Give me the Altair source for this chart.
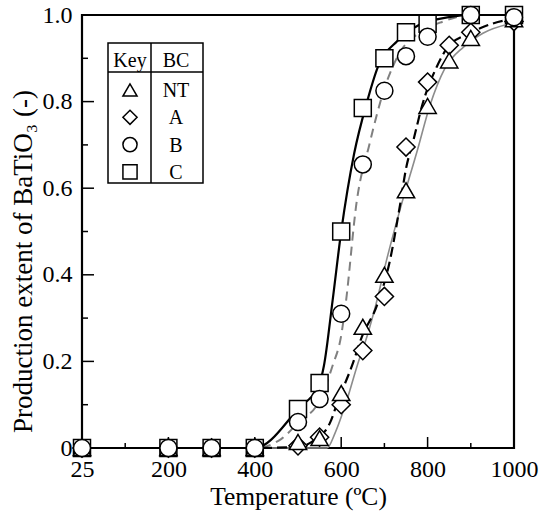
import altair as alt
import pandas as pd

# ---------------- data ----------------
temps_CB = [25, 200, 300, 400, 500, 550, 600, 650, 700, 750, 800, 900, 1000]
vals_C = [0, 0, 0, 0, 0.09, 0.15, 0.50, 0.785, 0.90, 0.96, 0.98, 1.0, 1.0]
vals_B = [0, 0, 0, 0, 0.06, 0.113, 0.31, 0.655, 0.825, 0.905, 0.95, 1.0, 0.995]

temps_ANT = [25, 200, 300, 400, 500, 550, 600, 650, 700, 750, 800, 850, 900, 1000]
vals_A = [0, 0, 0, 0, 0.005, 0.025, 0.10, 0.225, 0.35, 0.695, 0.845, 0.93, 0.96, 0.985]
vals_NT = [0, 0, 0, 0, 0.014, 0.023, 0.127, 0.28, 0.40, 0.595, 0.79, 0.895, 0.947, 0.99]

# fitted curves
curve_T_C = [25, 200, 300, 400, 500, 550, 560, 580, 600, 630, 660, 685, 730, 780, 850, 900, 1000]
curve_C = [0, 0, 0, 0, 0.09, 0.15, 0.19, 0.34, 0.50, 0.68, 0.80, 0.88, 0.94, 0.977, 0.995, 1.0, 1.0]

curve_T_B = [25, 200, 300, 400, 460, 500, 550, 580, 600, 610, 636, 665, 700, 740, 775, 836, 900, 1000]
curve_B = [0, 0, 0, 0, 0.02, 0.058, 0.11, 0.19, 0.26, 0.33, 0.57, 0.70, 0.83, 0.92, 0.955, 0.985, 1.0, 1.0]

curve_T_A = [25, 200, 300, 400, 500, 532, 574, 593, 625, 648, 683, 713, 736, 750, 767, 787, 821, 847, 898, 983, 1000]
curve_A = [0, 0, 0, 0, 0.003, 0.014, 0.058, 0.11, 0.19, 0.257, 0.33, 0.434, 0.56, 0.645, 0.71, 0.79, 0.88, 0.926, 0.958, 0.988, 0.99]

curve_T_NT = [25, 200, 300, 400, 500, 567, 586, 613, 637, 662, 680, 705, 736, 777, 805, 840, 883, 928, 991, 1000]
curve_NT = [0, 0, 0, 0, 0, 0.0, 0.035, 0.11, 0.19, 0.265, 0.33, 0.434, 0.55, 0.69, 0.79, 0.877, 0.926, 0.958, 0.98, 0.982]

legend_keys = ["NT", "A", "B", "C"]
legend_shapes = ["triangle-up", "diamond", "circle", "square"]

x_tick_labels = [25, 200, 400, 600, 800, 1000]
x_major = [200, 400, 600, 800]
x_minor = [100, 300, 500, 700, 900]
y_tick_labels = [0, 0.2, 0.4, 0.6, 0.8, 1.0]
y_major = [0.2, 0.4, 0.6, 0.8]
y_minor = [0.1, 0.3, 0.5, 0.7, 0.9]

FONT = "Liberation Serif"
W, H = 432, 433

xscale = alt.Scale(domain=[25, 100, 1000], range=[0, 43.2, W], nice=False, zero=False)
yscale = alt.Scale(domain=[0, 1], nice=False, zero=False)

base_x = alt.X("T:Q", scale=xscale,
               axis=alt.Axis(values=x_tick_labels, format="d", title="Temperature (\u00baC)",
                             labelFont=FONT, labelFontSize=24, titleFont=FONT, titleFontSize=25.5,
                             labelFlush=False, labelOverlap=False, labelPadding=9, titlePadding=3))
base_y = alt.Y("v:Q", scale=yscale,
               axis=alt.Axis(values=y_tick_labels,
                             labelExpr="datum.value == 0 ? '0' : format(datum.value, '.1f')",
                             title="Production extent of BaTiO\u2083 (-)",
                             labelFont=FONT, labelFontSize=24, titleFont=FONT, titleFontSize=27,
                             titleY=246, titleAlign="center",
                             labelFlush=False, labelOverlap=False, labelPadding=10, titlePadding=5))

layers = []

# inward ticks
layers.append(alt.Chart(pd.DataFrame({"T": x_major})).mark_rule(color="black", strokeWidth=1.5)
              .encode(x=alt.X("T:Q", scale=xscale), y=alt.value(H), y2=alt.value(H - 11)))
layers.append(alt.Chart(pd.DataFrame({"T": x_minor})).mark_rule(color="black", strokeWidth=1.5)
              .encode(x=alt.X("T:Q", scale=xscale), y=alt.value(H), y2=alt.value(H - 5)))
layers.append(alt.Chart(pd.DataFrame({"v": y_major})).mark_rule(color="black", strokeWidth=1.5)
              .encode(y=alt.Y("v:Q", scale=yscale), x=alt.value(0), x2=alt.value(12)))
layers.append(alt.Chart(pd.DataFrame({"v": y_minor})).mark_rule(color="black", strokeWidth=1.5)
              .encode(y=alt.Y("v:Q", scale=yscale), x=alt.value(0), x2=alt.value(6)))

# curves
def curve(ts, vs, color, width, dash=None):
    kw = dict(color=color, strokeWidth=width, interpolate="monotone", clip=False)
    if dash:
        kw["strokeDash"] = dash
    return alt.Chart(pd.DataFrame({"T": ts, "v": vs})).mark_line(**kw).encode(x=base_x, y=base_y)

layers.append(curve(curve_T_NT, curve_NT, "#8c8c8c", 1.6))
layers.append(curve(curve_T_B, curve_B, "#808080", 2, [9, 6]))
layers.append(curve(curve_T_A, curve_A, "black", 2.2, [10, 5]))
layers.append(curve(curve_T_C, curve_C, "black", 2.2))

# markers
def pts(ts, vs, shape, size):
    return alt.Chart(pd.DataFrame({"T": ts, "v": vs})).mark_point(
        shape=shape, size=size, filled=True, fill="white", stroke="black",
        strokeWidth=1.5, opacity=1, clip=False).encode(x=base_x, y=base_y)

layers.append(pts(temps_CB, vals_C, "square", 289))
layers.append(pts(temps_ANT, vals_A, "diamond", 330))
layers.append(pts(temps_ANT, vals_NT, "triangle-up", 300))
layers.append(pts(temps_CB, vals_B, "circle", 289))

# legend table
LX0, LX1, LXD = 26, 121, 69
LY0, LY1, LYH = 28, 168, 57
layers.append(alt.Chart(pd.DataFrame({"a": [0]})).mark_rect(fill="white", stroke="black", strokeWidth=1.5)
              .encode(x=alt.value(LX0), x2=alt.value(LX1), y=alt.value(LY0), y2=alt.value(LY1)))
layers.append(alt.Chart(pd.DataFrame({"a": [0]})).mark_rule(color="black", strokeWidth=1.5)
              .encode(x=alt.value(LXD), x2=alt.value(LXD), y=alt.value(LY0), y2=alt.value(LY1)))
layers.append(alt.Chart(pd.DataFrame({"a": [0]})).mark_rule(color="black", strokeWidth=1.5)
              .encode(x=alt.value(LX0), x2=alt.value(LX1), y=alt.value(LYH), y2=alt.value(LYH)))
hdr = pd.DataFrame({"t": ["Key", "BC"], "px": [48, 94]})
layers.append(alt.Chart(hdr).mark_text(font=FONT, fontSize=20, color="black", baseline="alphabetic", align="center")
              .encode(x=alt.X("px:Q", scale=None), y=alt.value(52), text="t:N"))

leg = pd.DataFrame({"key": legend_keys, "shape": legend_shapes, "i": list(range(len(legend_keys)))})
legbase = alt.Chart(leg).transform_calculate(py="75 + datum.i * 27.3", ty="82 + datum.i * 27.3")
layers.append(legbase.mark_point(filled=True, fill="white", stroke="black", strokeWidth=1.5, size=200, opacity=1)
              .encode(x=alt.value(48), y=alt.Y("py:Q", scale=None),
                      shape=alt.Shape("shape:N", scale=None)))
layers.append(legbase.mark_text(font=FONT, fontSize=20, color="black", baseline="alphabetic", align="center")
              .encode(x=alt.value(94), y=alt.Y("ty:Q", scale=None), text="key:N"))

chart = alt.layer(*layers).properties(
    width=W, height=H,
    autosize=alt.AutoSizeParams(type="none"),
    padding={"left": 82, "top": 15, "right": 36, "bottom": 67},
    background="white",
).configure_view(stroke="black", strokeWidth=2.2).configure_axis(
    domain=False, ticks=False, grid=False,
    labelFont=FONT, labelFontSize=24, labelColor="black",
    titleFont=FONT, titleFontSize=24, titleFontWeight="normal", titleColor="black",
)

chart.save("out.html", embed_options={"renderer": "svg", "actions": False})
